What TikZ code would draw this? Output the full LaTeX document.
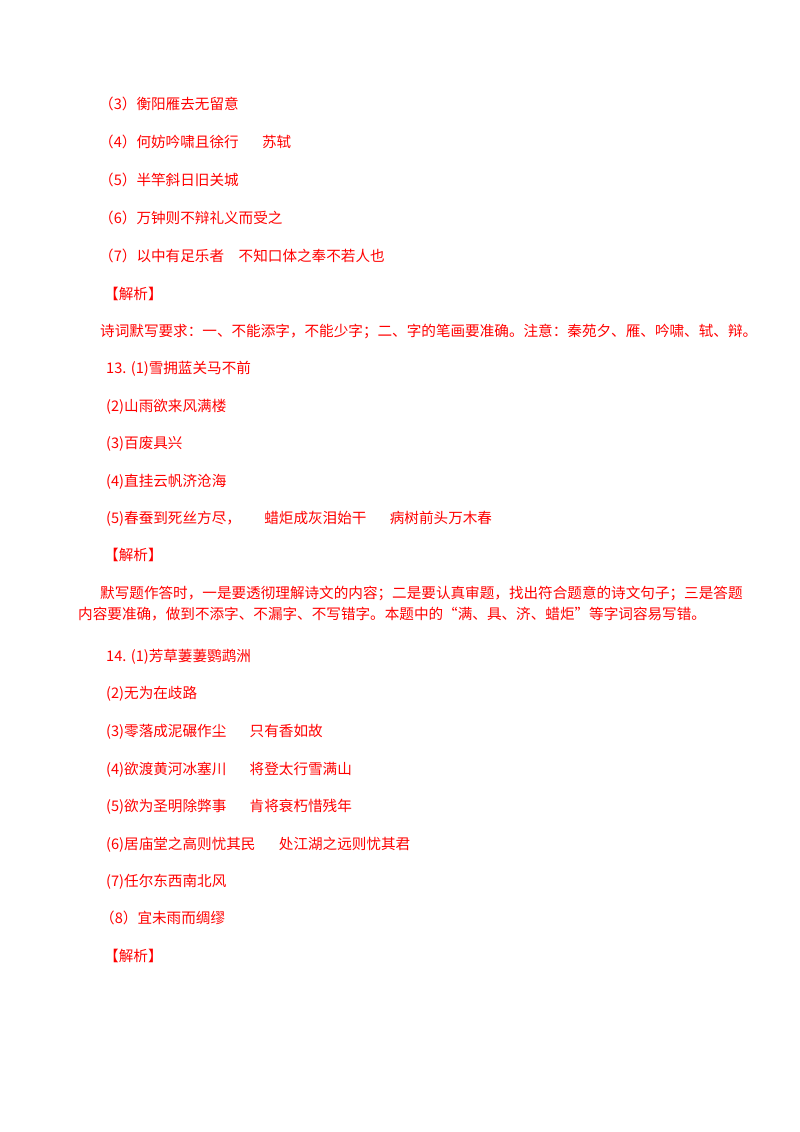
\documentclass[tikz,border=0pt]{standalone}
\usepackage{fontspec}
\newfontfamily\cjk{Noto Sans CJK SC}
\begin{document}
\begin{tikzpicture}[x=1pt,y=-1pt,
  t/.style={anchor=base west,inner sep=0pt,text=red,font=\cjk\fontsize{14.6}{16}\selectfont}]
\useasboundingbox[fill=white] (0,0) rectangle (800,1132);
\node[t] (a1) at (99,109) {（3）衡阳雁去无留意};
\node[t] (a2) at (99,147) {（4）何妨吟啸且徐行\hspace{1.6em}苏轼};
\node[t] (a3) at (99,185) {（5）半竿斜日旧关城};
\node[t] (a4) at (99,223) {（6）万钟则不辩礼义而受之};
\node[t] (a5) at (99,261) {（7）以中有足乐者\hspace{1em}不知口体之奉不若人也};
\node[t] (j1) at (104,299) {【解析】};
\node[t] (p1) at (100,336) {诗词默写要求：一、不能添字，不能少字；二、字的笔画要准确。注意：秦苑夕、雁、吟啸、轼、辩。};
\node[t] (b1) at (106,373) {13. (1)雪拥蓝关马不前};
\node[t] (b2) at (106,411) {(2)山雨欲来风满楼};
\node[t] (b3) at (106,448) {(3)百废具兴};
\node[t] (b4) at (106,486) {(4)直挂云帆济沧海};
\node[t] (b5) at (106,523) {(5)春蚕到死丝方尽，\hspace{1.6em}蜡炬成灰泪始干\hspace{1.6em}病树前头万木春};
\node[t] (j2) at (104,560) {【解析】};
\node[t] (p2) at (100,598) {默写题作答时，一是要透彻理解诗文的内容；二是要认真审题，找出符合题意的诗文句子；三是答题};
\node[t] (p3) at (78,619) {内容要准确，做到不添字、不漏字、不写错字。本题中的“满、具、济、蜡炬”等字词容易写错。};
\node[t] (c1) at (106,661) {14. (1)芳草萋萋鹦鹉洲};
\node[t] (c2) at (106,698) {(2)无为在歧路};
\node[t] (c3) at (106,736) {(3)零落成泥碾作尘\hspace{1.6em}只有香如故};
\node[t] (c4) at (106,774) {(4)欲渡黄河冰塞川\hspace{1.6em}将登太行雪满山};
\node[t] (c5) at (106,811) {(5)欲为圣明除弊事\hspace{1.6em}肯将衰朽惜残年};
\node[t] (c6) at (106,849) {(6)居庙堂之高则忧其民\hspace{1.6em}处江湖之远则忧其君};
\node[t] (c7) at (106,886) {(7)任尔东西南北风};
\node[t] (c8) at (100,923) {（8）宜未雨而绸缪};
\node[t] (j3) at (104,961) {【解析】};
\end{tikzpicture}
\end{document}
